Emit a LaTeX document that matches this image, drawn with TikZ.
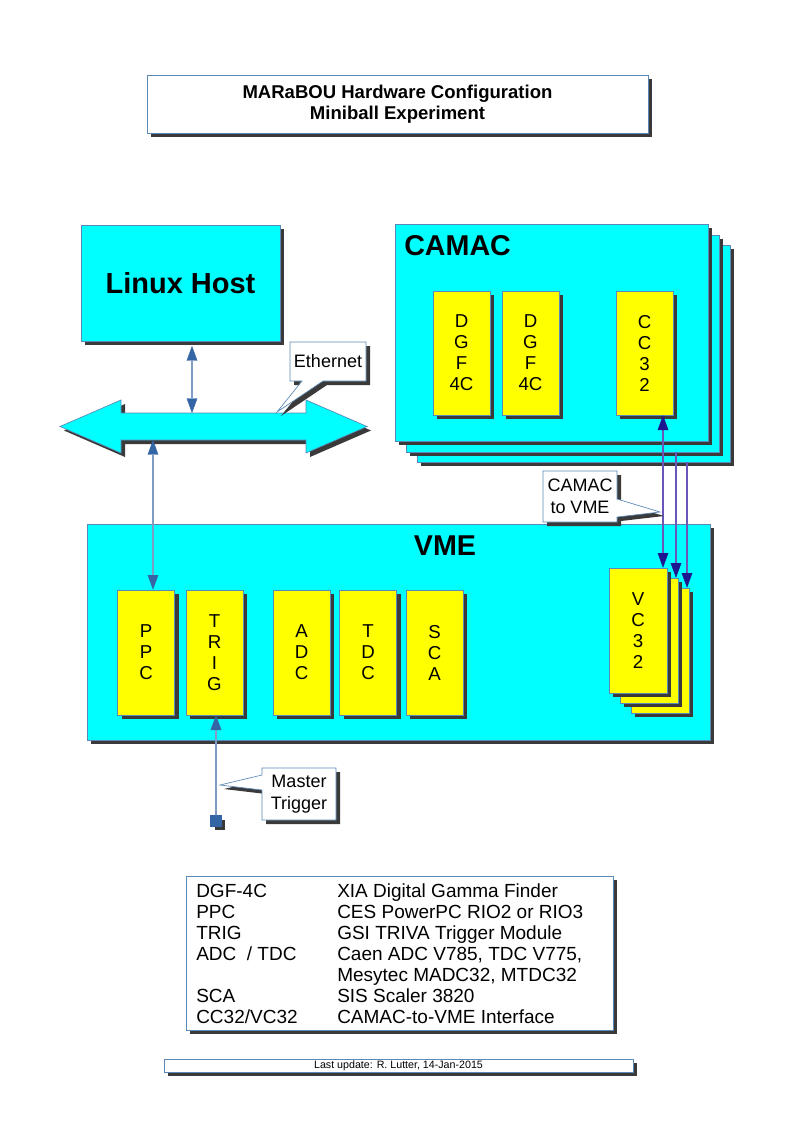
\documentclass[tikz,border=0pt]{standalone}
\usepackage{fontspec}
\setmainfont{Liberation Sans}
\usetikzlibrary{shadows,arrows.meta}
\definecolor{boxcyan}{HTML}{00FFFF}
\definecolor{modyellow}{HTML}{FFFF00}
\definecolor{shadowc}{HTML}{3A3A3A}
\definecolor{edgec}{HTML}{5A88B8}
\definecolor{bluetip}{HTML}{3465A4}
\definecolor{blueline}{HTML}{7F9CC4}
\definecolor{navytip}{HTML}{1E1690}
\definecolor{purpline}{HTML}{6A56B8}
\tikzset{
  btip/.tip={Triangle[length=11pt,width=8pt,line width=0.3pt,color=bluetip]},
  ntip/.tip={Triangle[length=11pt,width=8pt,line width=0.3pt,color=navytip]},
  rect/.style 2 args={minimum width=#1*0.75pt,minimum height=#2*0.75pt},
  shadowed/.style={drop shadow={shadow xshift=3pt,shadow yshift=-3pt,opacity=1,fill=shadowc}},
  cyanbox/.style={draw=edgec,line width=0.5pt,fill=boxcyan,inner sep=0pt,shadowed},
  modbox/.style={draw=edgec,line width=0.5pt,fill=modyellow,inner sep=0pt,shadowed,align=center,font=\fontsize{14}{15.75}\selectfont,rect={57}{125}},
  whitebox/.style={draw=edgec,line width=0.5pt,fill=white,inner sep=0pt,shadowed},
  biglabel/.style={font=\fontsize{21.5}{24}\selectfont\bfseries,inner sep=0pt},
  calloutshape/.style={draw=edgec,line width=0.5pt,fill=white},
  calloutshadow/.style={fill=shadowc,xshift=3pt,yshift=-3pt},
  callouttext/.style={font=\fontsize{13.5}{16.25}\selectfont,align=center,inner sep=0pt},
  bluearrow/.style={draw=blueline,line width=1.5pt},
  navyarrow/.style={draw=purpline,line width=1.2pt},
}
\begin{document}
\begin{tikzpicture}[x=0.75pt,y=-0.75pt]
\useasboundingbox[fill=white] (0,0) rectangle (794,1123);

% Title
\node[whitebox,rect={501}{58},align=center,font=\fontsize{13.9}{15.75}\selectfont\bfseries] (title) at (397.5,104) {MARaBOU Hardware Configuration\\Miniball Experiment};

% Linux host
\node[cyanbox,rect={199}{116},font=\fontsize{21.75}{24}\selectfont\bfseries] (linux) at (180.5,283) {Linux Host};

% Ethernet double arrow
\fill[shadowc,xshift=3pt,yshift=-3pt] (60,426.5) -- (121,400) -- (121,413) -- (306,413) -- (306,400) -- (367,426.5) -- (306,453) -- (306,440) -- (121,440) -- (121,453) -- cycle;
\draw[draw=edgec,line width=0.5pt,fill=boxcyan] (60,426.5) -- (121,400) -- (121,413) -- (306,413) -- (306,400) -- (367,426.5) -- (306,453) -- (306,440) -- (121,440) -- (121,453) -- cycle;
\coordinate (ethT) at (192,413);
\coordinate (ethB) at (153,440);
\coordinate (linuxB) at (192,346);
\draw[bluearrow,btip-btip] (linuxB) -- (ethT);

% Ethernet callout
\fill[calloutshadow] (290,342) -- (366,342) -- (366,381) -- (323,381) -- (277,412) -- (302,381) -- (290,381) -- cycle;
\draw[calloutshape] (290,342) -- (366,342) -- (366,381) -- (323,381) -- (277,412) -- (302,381) -- (290,381) -- cycle;
\node[callouttext] (ethlbl) at (328,361.5) {Ethernet};

% CAMAC crates
\node[cyanbox,rect={313}{217}] (crate3) at (573.5,353.5) {};
\node[cyanbox,rect={313}{217}] (crate2) at (562.5,343.5) {};
\node[cyanbox,rect={313}{217}] (crate1) at (551.5,332.5) {};
\node[biglabel,anchor=west] (camaclbl) at (404,246) {CAMAC};
\node[modbox,rect={57}{124}] (dgf1) at (461.5,353) {D\\G\\F\\4C};
\node[modbox,rect={57}{124}] (dgf2) at (530.5,353) {D\\G\\F\\4C};
\node[modbox,rect={57}{124}] (cc32) at (644.5,353) {C\\C\\3\\2};

% VME crate
\node[cyanbox,rect={623}{216}] (vme) at (398.5,632) {};
\node[biglabel] (vmelbl) at (445,546) {VME};
\node[modbox] (ppc) at (146,652.5) {P\\P\\C};
\node[modbox] (trig) at (214.5,652.5) {T\\R\\I\\G};
\node[modbox] (adc) at (301.5,652.5) {A\\D\\C};
\node[modbox] (tdc) at (368,652.5) {T\\D\\C};
\node[modbox] (sca) at (434.5,652.5) {S\\C\\A};
\node[modbox,rect={58}{125}] (vc3) at (660,650.5) {};
\node[modbox,rect={58}{125}] (vc2) at (649,640.5) {};
\node[modbox,rect={58}{125}] (vc1) at (638,630.5) {V\\C\\3\\2};

% CAMAC to VME connections
\coordinate (a1) at (663,0);
\coordinate (a2) at (676,0);
\coordinate (a3) at (687,0);
\draw[navyarrow,ntip-ntip] (cc32.south -| a1) -- (vc1.north -| a1);
\draw[navyarrow,-ntip] (crate2.south -| a2) -- (vc2.north -| a2);
\draw[navyarrow,-ntip] (crate3.south -| a3) -- (vc3.north -| a3);

% CAMAC to VME callout
\fill[calloutshadow] (543,471) -- (617,471) -- (617,499) -- (660,512) -- (617,517) -- (617,522) -- (543,522) -- cycle;
\draw[calloutshape] (543,471) -- (617,471) -- (617,499) -- (660,512) -- (617,517) -- (617,522) -- (543,522) -- cycle;
\node[callouttext] (c2vlbl) at (580,496.5) {CAMAC\\to VME};

% PPC to Ethernet
\draw[bluearrow,btip-btip] (ethB) -- (ppc.north -| ethB);

% Master trigger
\node[fill=bluetip,draw=bluetip,minimum size=8pt,inner sep=0pt,shadowed] (mtsq) at (216,821) {};
\draw[bluearrow,-btip] (mtsq.north) -- (trig.south -| mtsq);
\fill[calloutshadow] (262,768) -- (336,768) -- (336,820) -- (262,820) -- (262,790) -- (220,785) -- (262,775) -- cycle;
\draw[calloutshape] (262,768) -- (336,768) -- (336,820) -- (262,820) -- (262,790) -- (220,785) -- (262,775) -- cycle;
\node[callouttext] (mtlbl) at (299,794) {Master\\Trigger};

% Legend
\node[whitebox,rect={427}{154}] (legend) at (399.5,953) {};
\node[anchor=north west,inner sep=0pt,font=\fontsize{14.25}{15.75}\selectfont] (legtext) at (196,883) {%
\begin{tabular}{@{}p{105.75pt}@{}l@{}}
DGF-4C & XIA Digital Gamma Finder\\
PPC & CES PowerPC RIO2 or RIO3\\
TRIG & GSI TRIVA Trigger Module\\
ADC\ \ / TDC & Caen ADC V785, TDC V775,\\
 & Mesytec MADC32, MTDC32\\
SCA & SIS Scaler 3820\\
CC32/VC32 & CAMAC-to-VME Interface
\end{tabular}};

% Footer
\node[whitebox,rect={469}{13},font=\fontsize{8}{9}\selectfont] (footer) at (398.5,1065.5) {Last update: R. Lutter, 14-Jan-2015};
\end{tikzpicture}
\end{document}
